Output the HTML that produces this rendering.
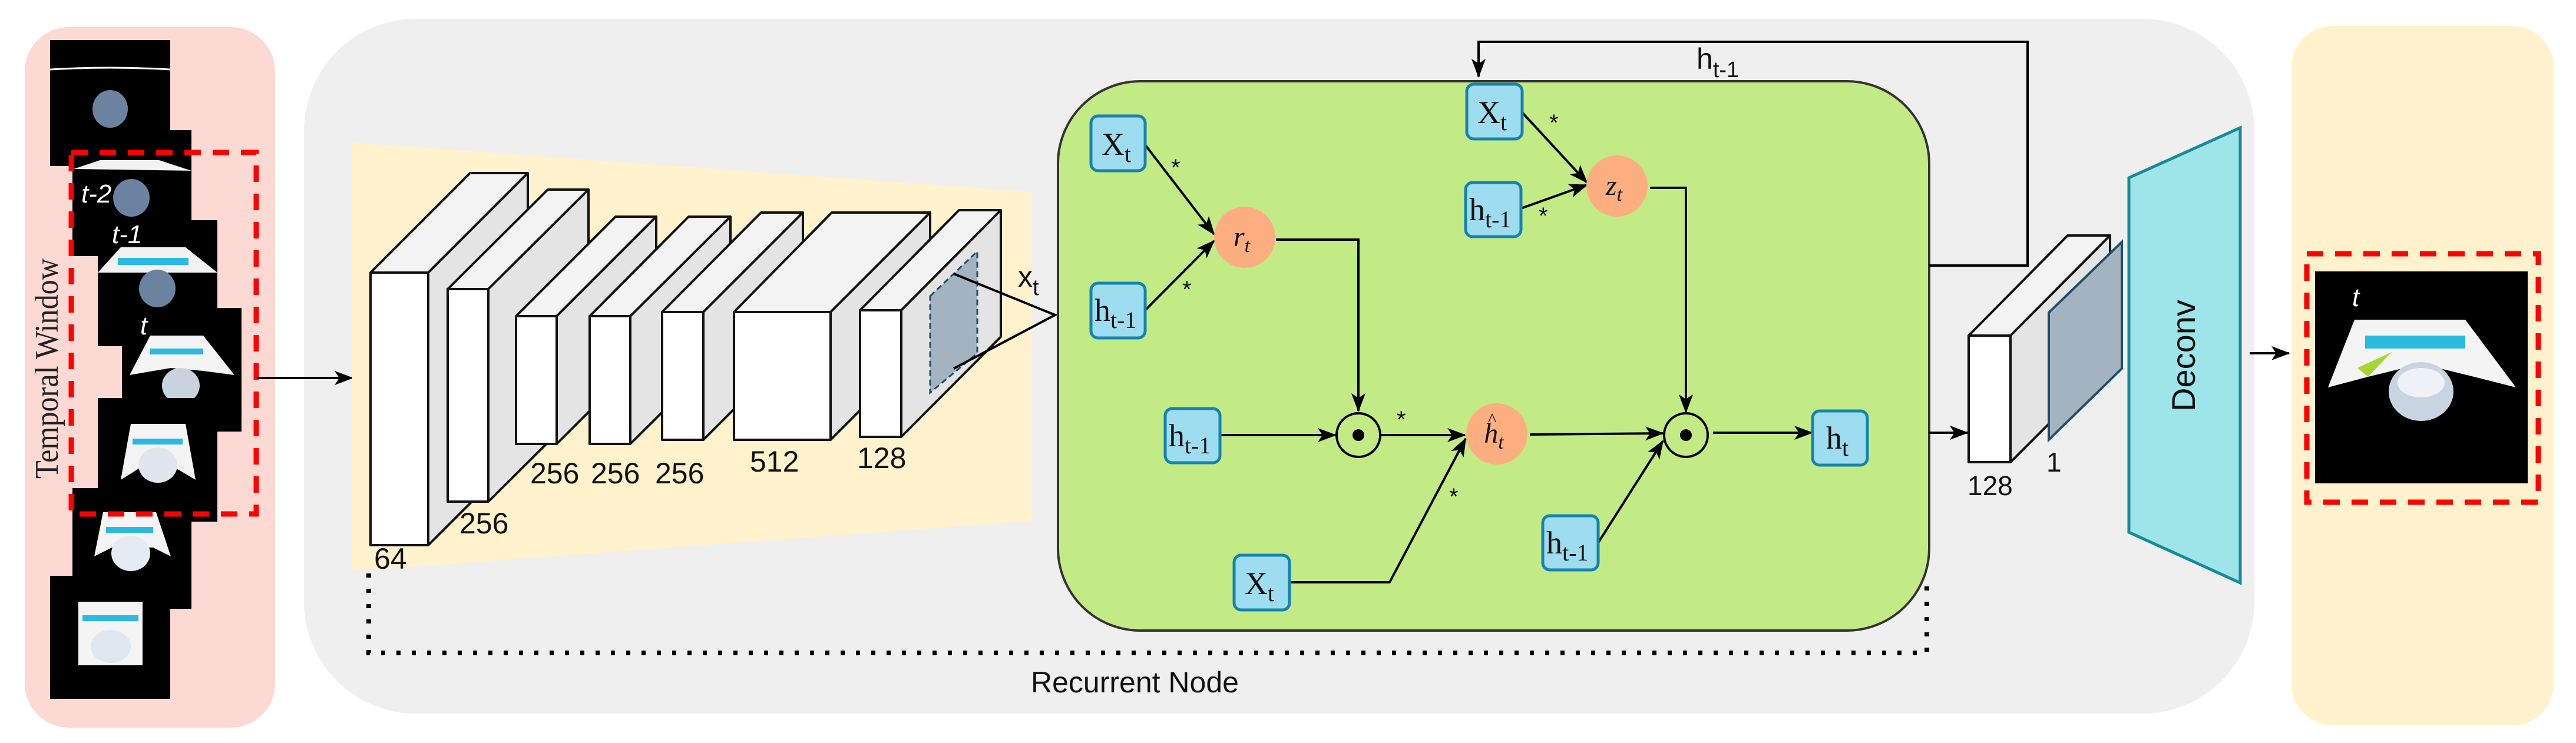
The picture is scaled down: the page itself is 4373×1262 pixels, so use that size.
<!DOCTYPE html>
<html><head><meta charset="utf-8"><style>
html,body{margin:0;padding:0;background:#fff;}
svg{display:block;}
text{font-family:"Liberation Sans",sans-serif;}
.serif{font-family:"Liberation Serif",serif;}
</style></head><body>
<svg width="4373" height="1262" viewBox="0 0 4373 1262" xmlns="http://www.w3.org/2000/svg">
<defs>
<marker id="ah" markerWidth="34" markerHeight="28" refX="30" refY="12" orient="auto" markerUnits="userSpaceOnUse">
<path d="M0,0 L32,12 L0,24 L8,12 z" fill="#000"/>
</marker>
</defs>

<!-- panels -->
<rect x="42" y="46" width="425" height="1190" rx="75" fill="#fdd9d3"/>
<rect x="516" y="32" width="3311" height="1180" rx="190" fill="#efefef"/>
<rect x="3890" y="44" width="445" height="1188" rx="70" fill="#fff2cc"/>

<!-- temporal window label -->
<text class="serif" transform="translate(98,626) rotate(-90)" text-anchor="middle" font-size="56" fill="#222" textLength="374" lengthAdjust="spacingAndGlyphs">Temporal Window</text>

<!-- frames -->
<g>
<rect x="85" y="68" width="204" height="214" fill="#000"/>
<path d="M85,118 Q187,112 289,118" stroke="#fff" stroke-width="3" fill="none"/>
<ellipse cx="187" cy="185" rx="30" ry="32" fill="#6b83a0"/>
<rect x="123" y="221" width="202" height="214" fill="#000"/>
<path d="M125,287 L170,272 L270,272 L325,290 Z" fill="#f2f2f2"/>
<ellipse cx="223" cy="336" rx="31" ry="32" fill="#6b83a0"/>
<rect x="166" y="374" width="203" height="214" fill="#000"/>
<path d="M166,463 L205,420 L315,420 L369,463 Z" fill="#f2f2f2"/>
<rect x="200" y="438" width="120" height="12" fill="#2bb9e0"/>
<ellipse cx="267" cy="490" rx="31" ry="32" fill="#6b83a0"/>
<rect x="207" y="523" width="203" height="210" fill="#000"/>
<path d="M220,637 L255,570 L345,570 L398,637 L345,630 L290,625 Z" fill="#f4f4f4"/>
<rect x="255" y="592" width="90" height="10" fill="#2bb9e0"/>
<ellipse cx="307" cy="655" rx="32" ry="30" fill="#c9d3e0"/>
<rect x="166" y="676" width="203" height="210" fill="#000"/>
<path d="M205,815 L222,720 L315,720 L332,815 L290,790 L245,790 Z" fill="#f4f4f4"/>
<rect x="225" y="745" width="85" height="10" fill="#2bb9e0"/>
<ellipse cx="268" cy="790" rx="33" ry="30" fill="#dfe6ef"/>
<rect x="123" y="829" width="202" height="205" fill="#000"/>
<path d="M160,945 L175,870 L265,870 L290,945 L260,930 L190,930 Z" fill="#f4f4f4"/>
<rect x="180" y="895" width="80" height="10" fill="#2bb9e0"/>
<ellipse cx="222" cy="940" rx="33" ry="30" fill="#e5ebf2"/>
<rect x="85" y="978" width="204" height="209" fill="#000"/>
<rect x="133" y="1022" width="109" height="108" fill="#f4f4f4"/>
<rect x="140" y="1045" width="95" height="10" fill="#2bb9e0"/>
<ellipse cx="188" cy="1098" rx="34" ry="28" fill="#e0e7ef"/>
</g>
<rect x="121" y="259" width="314" height="614" fill="none" stroke="#f00" stroke-width="9" stroke-dasharray="28,20"/>
<text x="138" y="344" font-size="44" font-style="italic" fill="#fff">t-2</text>
<text x="190" y="413" font-size="44" font-style="italic" fill="#fff">t-1</text>
<text x="238" y="568" font-size="44" font-style="italic" fill="#fff">t</text>
<line x1="437" y1="642" x2="598" y2="642" stroke="#000" stroke-width="4" marker-end="url(#ah)"/>

<!-- CNN trapezoid -->
<polygon points="597,242 1751,326 1751,885 597,970" fill="#fff2cc"/>

<!-- CNN blocks -->
<g stroke="#111" stroke-width="4" stroke-linejoin="round">
<!-- block1 -->
<polygon points="629,463 727,463 896,294 798,294" fill="#f3f3f3"/>
<polygon points="727,463 896,294 896,757 727,926" fill="#e4e4e4"/>
<rect x="629" y="463" width="98" height="463" fill="#fff"/>
<!-- block2 -->
<polygon points="760,491 829,491 999,322 930,322" fill="#f3f3f3"/>
<polygon points="829,491 999,322 999,683 829,852" fill="#e4e4e4"/>
<rect x="760" y="491" width="69" height="361" fill="#fff"/>
<!-- block3 -->
<polygon points="876,537 945,537 1114,368 1045,368" fill="#f3f3f3"/>
<polygon points="945,537 1114,368 1114,585 945,754" fill="#e4e4e4"/>
<rect x="876" y="537" width="69" height="217" fill="#fff"/>
<!-- block4 -->
<polygon points="1001,537 1070,537 1240,368 1169,368" fill="#f3f3f3"/>
<polygon points="1070,537 1240,368 1240,585 1070,754" fill="#e4e4e4"/>
<rect x="1001" y="537" width="69" height="217" fill="#fff"/>
<!-- block5 -->
<polygon points="1124,530 1194,530 1363,361 1292,361" fill="#f3f3f3"/>
<polygon points="1194,530 1363,361 1363,578 1194,747" fill="#e4e4e4"/>
<rect x="1124" y="530" width="70" height="217" fill="#fff"/>
<!-- block6 -->
<polygon points="1246,530 1410,530 1579,361 1412,361" fill="#f3f3f3"/>
<polygon points="1410,530 1579,361 1579,578 1410,747" fill="#e4e4e4"/>
<rect x="1246" y="530" width="164" height="217" fill="#fff"/>
<!-- block7 -->
<polygon points="1460,527 1530,527 1699,357 1628,357" fill="#f3f3f3"/>
<polygon points="1530,527 1699,357 1699,572 1530,742" fill="#e4e4e4"/>
<rect x="1460" y="527" width="70" height="215" fill="#fff"/>
</g>
<polygon points="1579,503 1659,427 1659,600 1579,667" fill="#a3b4c0" stroke="#1f4e6b" stroke-width="3" stroke-dasharray="10,6"/>
<polyline points="1619,465 1791,535 1619,626" fill="none" stroke="#000" stroke-width="4"/>
<g font-size="50" fill="#111">
<text x="635" y="966">64</text>
<text x="780" y="906">256</text>
<text x="900" y="821">256</text>
<text x="1003" y="821">256</text>
<text x="1112" y="821">256</text>
<text x="1273" y="801">512</text>
<text x="1455" y="795">128</text>
<text x="1728" y="487">x<tspan font-size="38" dy="14">t</tspan></text>
</g>

<!-- dotted recurrent loop -->
<path d="M626,974 V1109 H3271 V978" fill="none" stroke="#000" stroke-width="8" stroke-dasharray="7,19"/>
<text x="1750" y="1176" font-size="50" fill="#111">Recurrent Node</text>

<!-- GRU box -->
<rect x="1796" y="138" width="1479" height="933" rx="140" fill="#c3eb85" stroke="#333" stroke-width="4"/>

<!-- feedback -->
<path d="M3275,451 H3442 V71 H2510 V130" fill="none" stroke="#000" stroke-width="4" marker-end="url(#ah)"/>
<text x="2880" y="117" font-size="50" fill="#111">h<tspan font-size="38" dy="14">t-1</tspan></text>

<!-- connectors -->
<g stroke="#000" stroke-width="4" fill="none">
<line x1="1944" y1="246" x2="2061" y2="398" marker-end="url(#ah)"/>
<line x1="1944" y1="527" x2="2061" y2="409" marker-end="url(#ah)"/>
<path d="M2166,407 H2306 V698" marker-end="url(#ah)"/>
<line x1="2071" y1="739" x2="2267" y2="739" marker-end="url(#ah)"/>
<line x1="2345" y1="739" x2="2487" y2="739" marker-end="url(#ah)"/>
<path d="M2189,989 H2359 L2488,745" marker-end="url(#ah)"/>
<line x1="2597" y1="738" x2="2823" y2="736" marker-end="url(#ah)"/>
<line x1="2713" y1="922" x2="2823" y2="749" marker-end="url(#ah)"/>
<line x1="2584" y1="191" x2="2694" y2="310" marker-end="url(#ah)"/>
<line x1="2582" y1="354" x2="2694" y2="314" marker-end="url(#ah)"/>
<path d="M2801,319 H2862 V700" marker-end="url(#ah)"/>
<line x1="2908" y1="735" x2="3076" y2="735" marker-end="url(#ah)"/>
<line x1="3275" y1="735" x2="3340" y2="735" marker-end="url(#ah)"/>
</g>
<g font-size="40" fill="#111">
<text x="1988" y="298">*</text>
<text x="2007" y="505">*</text>
<text x="2630" y="222">*</text>
<text x="2612" y="380">*</text>
<text x="2371" y="726">*</text>
<text x="2460" y="857">*</text>
</g>

<!-- ellipses -->
<g fill="#fdae80">
<ellipse cx="2113" cy="403" rx="52" ry="52"/>
<ellipse cx="2745" cy="316" rx="52" ry="52"/>
<ellipse cx="2541" cy="737" rx="52" ry="52"/>
</g>
<g class="serif" font-size="48" font-style="italic" fill="#111" text-anchor="middle">
<text class="serif" x="2108" y="418">r<tspan font-size="34" dy="10">t</tspan></text>
<text class="serif" x="2740" y="331">z<tspan font-size="34" dy="10">t</tspan></text>
<text class="serif" x="2536" y="752">h<tspan font-size="34" dy="10">t</tspan></text>
</g>
<text class="serif" x="2526" y="722" font-size="30" fill="#111">^</text>
<g fill="#c3eb85" stroke="#000" stroke-width="4">
<circle cx="2306" cy="739" r="37"/>
<circle cx="2862" cy="739" r="37"/>
</g>
<circle cx="2306" cy="739" r="10" fill="#000"/>
<circle cx="2862" cy="739" r="10" fill="#000"/>

<!-- blue boxes -->
<g fill="#9edcf0" stroke="#1483b0" stroke-width="5">
<rect x="1852" y="197" width="92" height="93" rx="12"/>
<rect x="1852" y="481" width="92" height="93" rx="12"/>
<rect x="2490" y="143" width="94" height="93" rx="12"/>
<rect x="2488" y="310" width="94" height="92" rx="12"/>
<rect x="1978" y="694" width="93" height="92" rx="12"/>
<rect x="2095" y="943" width="94" height="93" rx="12"/>
<rect x="2619" y="876" width="94" height="92" rx="12"/>
<rect x="3077" y="698" width="93" height="92" rx="12"/>
</g>
<g font-size="54" fill="#111">
<text class="serif" x="1870" y="263">X<tspan font-size="40" dy="12">t</tspan></text>
<text class="serif" x="1858" y="545">h<tspan font-size="40" dy="12">t-1</tspan></text>
<text class="serif" x="2508" y="209">X<tspan font-size="40" dy="12">t</tspan></text>
<text class="serif" x="2494" y="374">h<tspan font-size="40" dy="12">t-1</tspan></text>
<text class="serif" x="1984" y="758">h<tspan font-size="40" dy="12">t-1</tspan></text>
<text class="serif" x="2113" y="1009">X<tspan font-size="40" dy="12">t</tspan></text>
<text class="serif" x="2625" y="940">h<tspan font-size="40" dy="12">t-1</tspan></text>
<text class="serif" x="3100" y="762">h<tspan font-size="40" dy="12">t</tspan></text>
</g>

<!-- 128 block and slab -->
<g stroke="#111" stroke-width="4" stroke-linejoin="round">
<polygon points="3342,570 3413,570 3582,400 3510,400" fill="#f3f3f3"/>
<polygon points="3413,570 3582,400 3582,616 3413,785" fill="#e4e4e4"/>
<rect x="3342" y="570" width="71" height="215" fill="#fff"/>
</g>
<polygon points="3478,531 3602,411 3602,626 3478,747" fill="#a3b4c0" stroke="#1f4e6b" stroke-width="4"/>
<text x="3340" y="841" font-size="46" fill="#111">128</text>
<text x="3474" y="801" font-size="46" fill="#111">1</text>

<!-- deconv -->
<polygon points="3614,302 3803,217 3803,990 3614,904" fill="#9de5e8" stroke="#178a9a" stroke-width="5"/>
<text transform="translate(3726,604) rotate(-90)" text-anchor="middle" font-size="56" fill="#111">Deconv</text>
<line x1="3819" y1="600" x2="3886" y2="600" stroke="#000" stroke-width="4" marker-end="url(#ah)"/>

<!-- output image -->
<rect x="3930" y="461" width="361" height="360" fill="#000"/>
<path d="M3952,658 L3997,543 L4185,543 L4271,658 L4200,640 L4110,618 L4020,640 Z" fill="#f4f4f4"/>
<rect x="4015" y="570" width="170" height="22" fill="#2bb9e0"/>
<polygon points="4002,625 4060,598 4020,640" fill="#a6d632"/>
<ellipse cx="4110" cy="665" rx="55" ry="50" fill="#c9d4e2"/>
<ellipse cx="4110" cy="650" rx="40" ry="25" fill="#eef2f7"/>
<text x="3993" y="520" font-size="44" font-style="italic" fill="#fff">t</text>
<rect x="3916" y="431" width="393" height="422" fill="none" stroke="#f00" stroke-width="9" stroke-dasharray="28,20"/>
</svg>
</body></html>
